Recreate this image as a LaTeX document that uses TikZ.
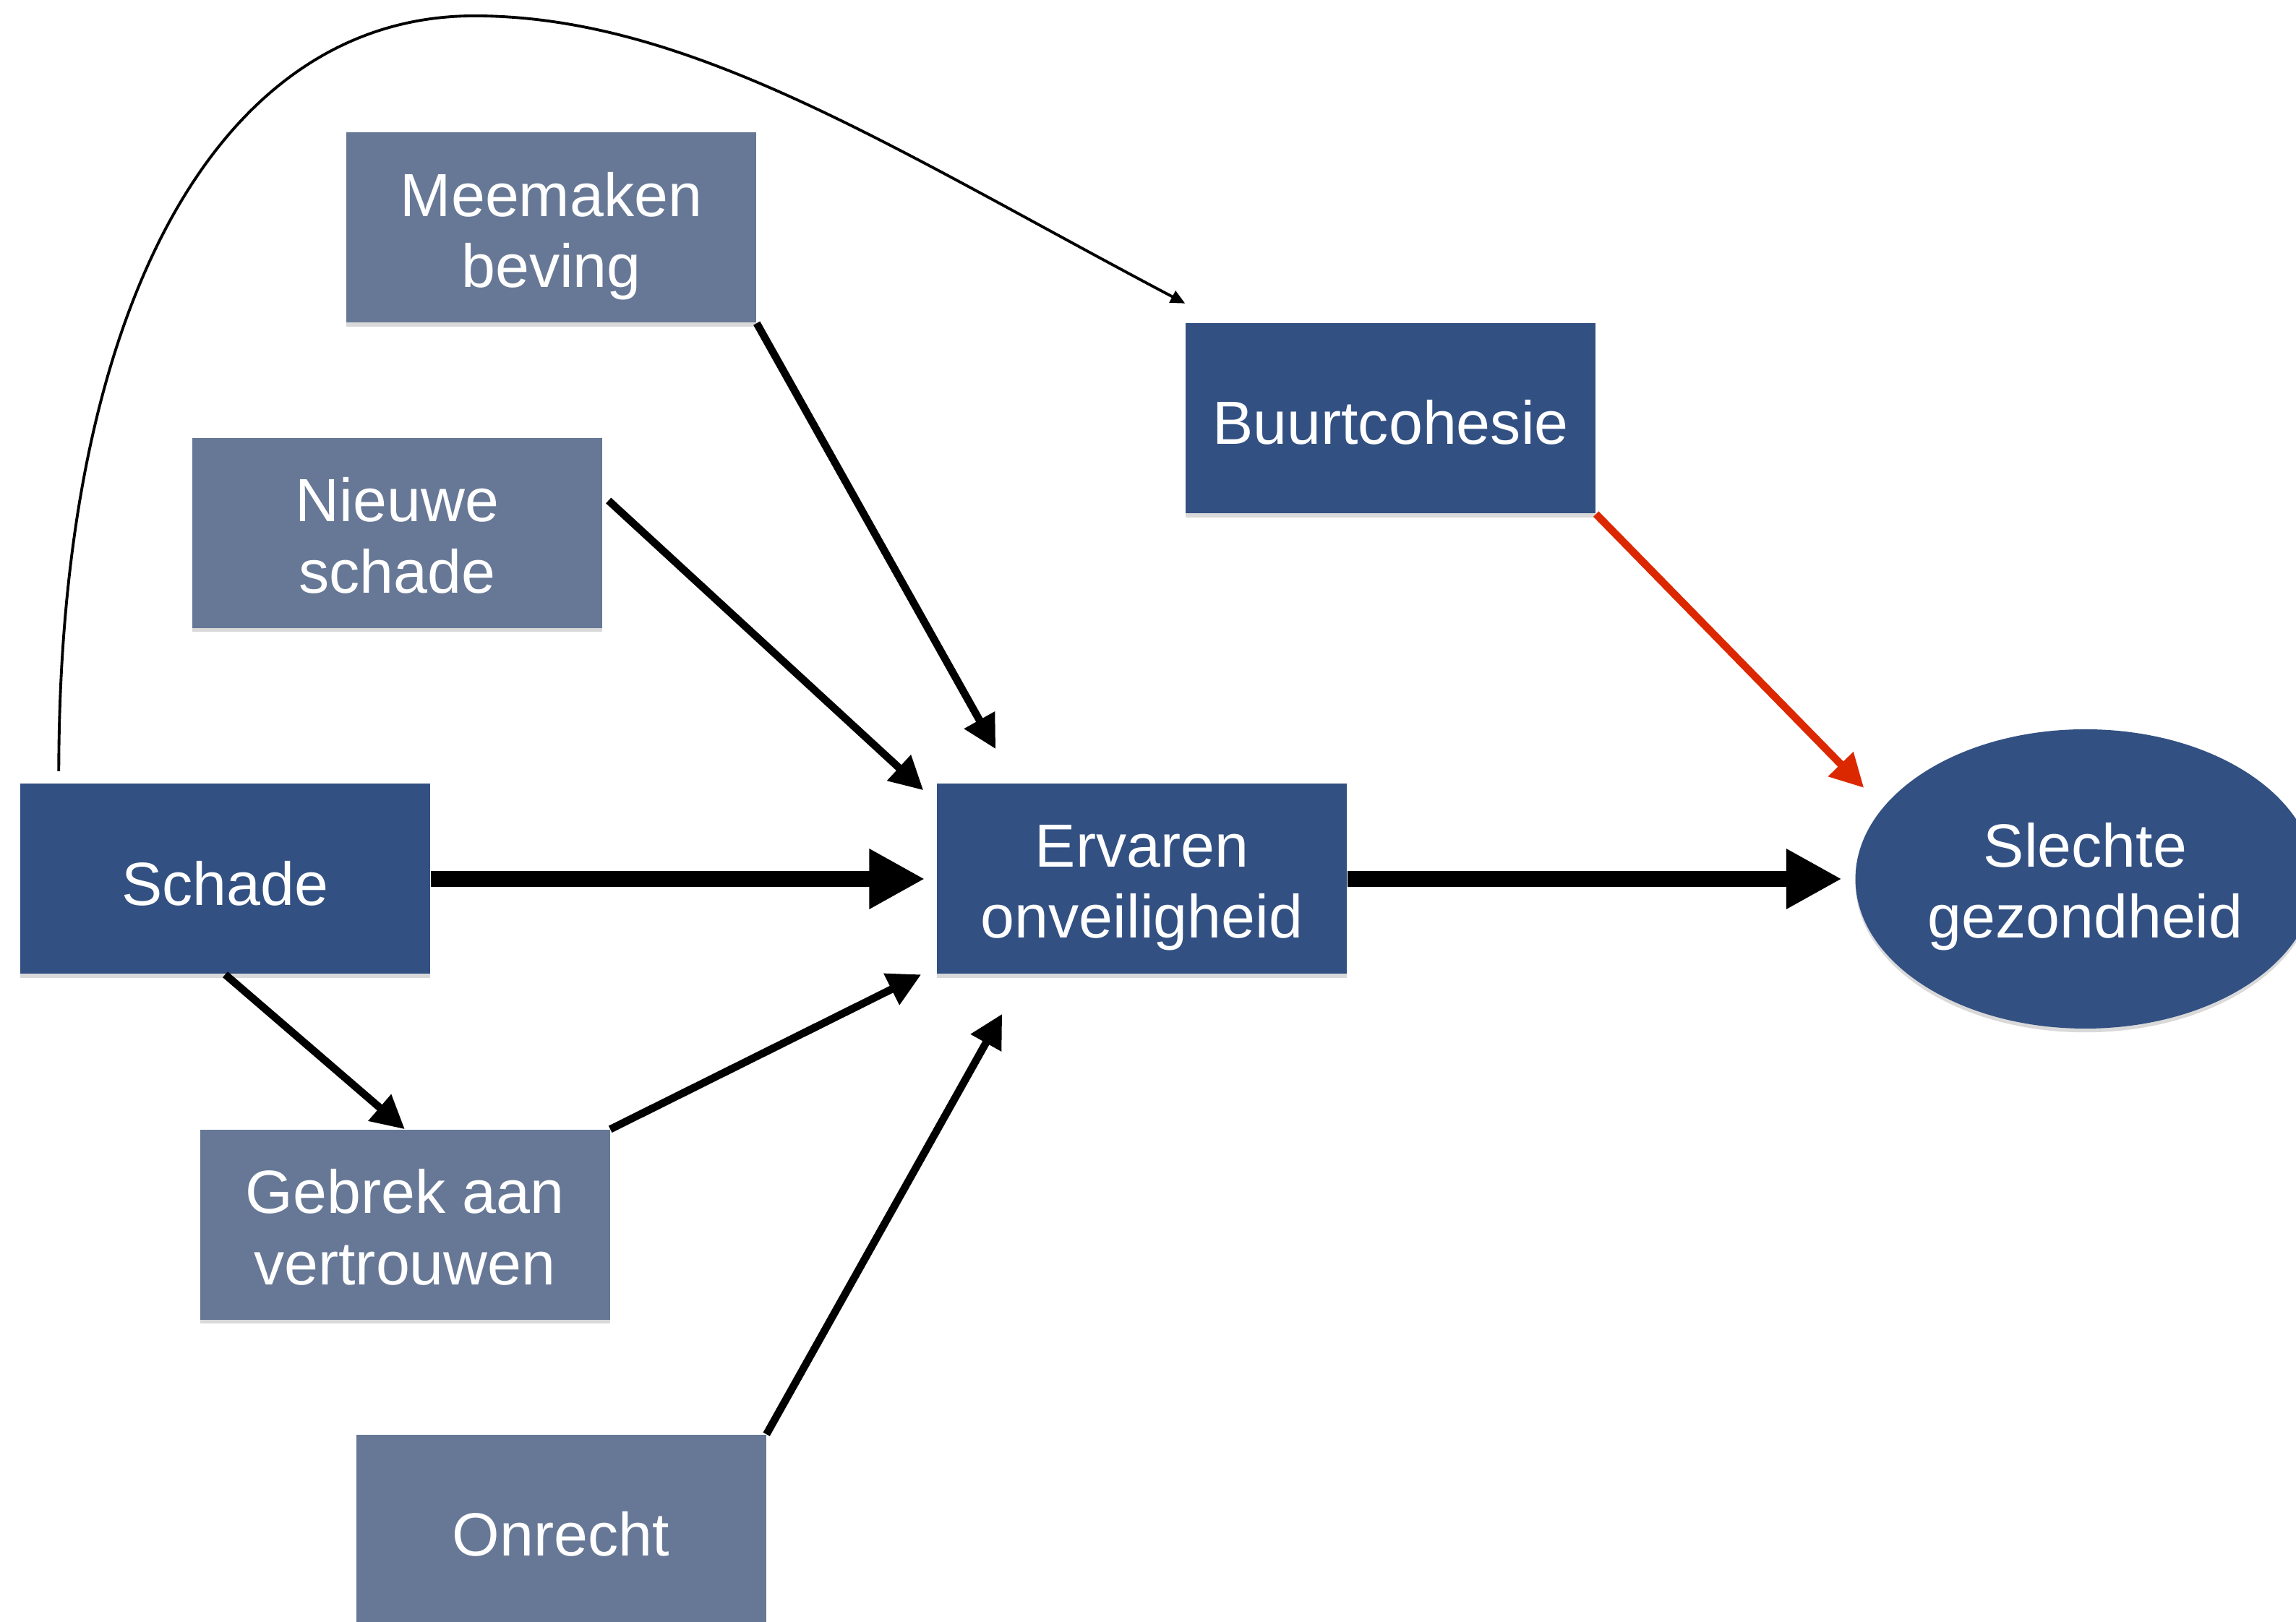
\documentclass[tikz,border=0pt]{standalone}
\usepackage{fontspec}
\setmainfont{Liberation Sans}
\usetikzlibrary{positioning,arrows.meta,shadows,shapes.geometric}

\definecolor{darkblue}{HTML}{325082}
\definecolor{greyblue}{HTML}{677896}
\definecolor{redline}{HTML}{DC2800}

\begin{document}
\begin{tikzpicture}[node distance=2cm,on grid,
  factor/.style={rectangle,minimum width=5.67cm,minimum height=2.63cm,text=white,align=center,
    font=\fontsize{24}{28}\selectfont,
    drop shadow={shadow xshift=0pt,shadow yshift=-1.5pt,opacity=0.3}},
  textdrop/.style={execute at begin node={\rule{0pt}{#1}}},
  main/.style={factor,fill=darkblue},
  side/.style={factor,fill=greyblue},
  health/.style={factor,ellipse,minimum width=6.36cm,minimum height=4.14cm,inner sep=0pt,fill=darkblue},
  big/.style={-{Triangle[length=0.77cm,width=0.78cm]},line width=6pt},
  mid/.style={-{Triangle[length=0.46cm,width=0.46cm]},line width=3pt}]
\useasboundingbox (0,0) rectangle (31.76,22.44);

\node[main,textdrop=0.74cm] (schade) at (3.115,10.28) {Schade};
\node[main,textdrop=1.81cm] (ervaren) [right=12.68cm of schade] {Ervaren\\onveiligheid};
\node[health,textdrop=1.81cm] (gezond) [right=13.05cm of ervaren] {Slechte\\gezondheid};
\node[side,textdrop=1.83cm] (meemaken) [above right=9.01cm and 4.51cm of schade] {Meemaken\\beving};
\node[side,textdrop=1.66cm] (nieuw) [above right=4.785cm and 2.38cm of schade] {Nieuwe\\schade};
\node[main,textdrop=0.72cm] (buurt) [above right=6.37cm and 3.44cm of ervaren] {Buurtcohesie};
\node[side,textdrop=1.66cm] (gebrek) [below right=4.785cm and 2.485cm of schade] {Gebrek aan\\vertrouwen};
\node[side,textdrop=0.72cm] (onrecht) [below right=9.005cm and 4.645cm of schade] {Onrecht};

\path
(schade.east) edge [big] ([xshift=-0.16cm]ervaren.west)
(ervaren.east) edge [big] ([xshift=-0.18cm]gezond.west)

(meemaken.south east) edge [mid] ([xshift=0.82cm,yshift=0.475cm]ervaren.north west)
([xshift=0.08cm,yshift=0.45cm]nieuw.east) edge [mid] ([xshift=-0.18cm,yshift=-0.095cm]ervaren.north west)
(schade.south) edge [mid] (gebrek.north)
(gebrek.north east) edge [mid] ([xshift=-0.21cm]ervaren.south west)
(onrecht.north east) edge [mid] ([xshift=0.91cm,yshift=-0.545cm]ervaren.south west)

(buurt.south east) edge [mid, redline] ([xshift=0.125cm,yshift=1.26cm]gezond.west)
; %end path

% long bow from Schade over the top to Buurtcohesie
\draw[-{Triangle[length=0.2cm,width=0.18cm]},line width=1.1pt]
([xshift=0.54cm,yshift=0.17cm]schade.north west) .. controls (0.82,18.27) and (3.06,22.22) .. (6.56,22.22)
.. controls (9.56,22.22) and (12.40,20.35) .. ([yshift=0.27cm]buurt.north west);
\end{tikzpicture}
\end{document}
